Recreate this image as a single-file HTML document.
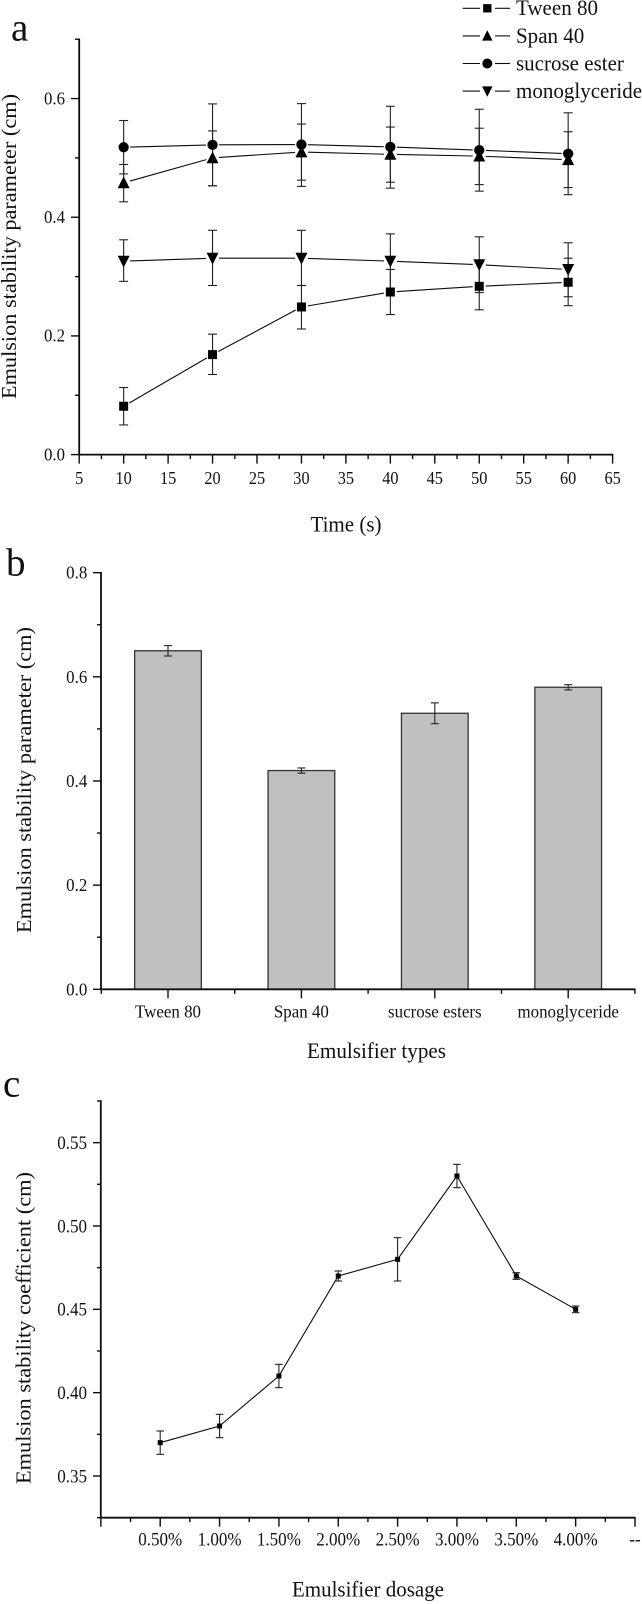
<!DOCTYPE html>
<html lang="en">
<head>
<meta charset="utf-8">
<title>Emulsion stability charts</title>
<style>
html,body{margin:0;padding:0;background:#fff;}
svg{display:block;}
text{font-family:"Liberation Serif",serif;fill:#111;}
</style>
</head>
<body>
<svg id="fig" width="642" height="1604" viewBox="0 0 642 1604" xmlns="http://www.w3.org/2000/svg">
  <text x="11" y="40.7" font-size="39">a</text>
  <text x="6" y="575.7" font-size="39">b</text>
  <text x="3" y="1096.7" font-size="39">c</text>
  <text transform="translate(16,399) rotate(-90)" font-size="21.5" textLength="305" lengthAdjust="spacingAndGlyphs">Emulsion stability parameter (cm)</text>
  <text x="346" y="531.7" font-size="22.5" text-anchor="middle" textLength="71" lengthAdjust="spacingAndGlyphs">Time (s)</text>
  <text transform="translate(31,933) rotate(-90)" font-size="21.5" textLength="306" lengthAdjust="spacingAndGlyphs">Emulsion stability parameter (cm)</text>
  <text x="376.5" y="1058" font-size="22.5" text-anchor="middle" textLength="139" lengthAdjust="spacingAndGlyphs">Emulsifier types</text>
  <text transform="translate(30.5,1484) rotate(-90)" font-size="21.5" textLength="312" lengthAdjust="spacingAndGlyphs">Emulsion stability coefficient (cm)</text>
  <text x="368" y="1596.7" font-size="22.5" text-anchor="middle" textLength="152" lengthAdjust="spacingAndGlyphs">Emulsifier dosage</text>
</svg>
<script>
// Chart a data
const aTimes = [10, 20, 30, 40, 50, 60];
const aXTicks = [5, 10, 15, 20, 25, 30, 35, 40, 45, 50, 55, 60, 65];
const aYTicks = [0, 0.2, 0.4, 0.6];
const aYMinorTicks = [0.1, 0.3, 0.5, 0.7];
const tweenValues = [0.0815, 0.1685, 0.2488, 0.274, 0.2836, 0.2904];
const tweenUpper = [0.113, 0.203, 0.285, 0.312, 0.3236, 0.331];
const tweenLower = [0.05, 0.135, 0.2117, 0.236, 0.244, 0.251];
const spanValues = [0.458, 0.5, 0.51, 0.506, 0.503, 0.497];
const spanUpper = [0.489, 0.5455, 0.557, 0.552, 0.55, 0.544];
const spanLower = [0.426, 0.453, 0.4625, 0.459, 0.455, 0.45];
const sucroseValues = [0.518, 0.522, 0.5225, 0.5185, 0.513, 0.507];
const sucroseUpper = [0.563, 0.591, 0.5915, 0.587, 0.582, 0.576];
const sucroseLower = [0.473, 0.453, 0.452, 0.449, 0.444, 0.438];
const monoValues = [0.326, 0.331, 0.331, 0.326, 0.32, 0.312];
const monoUpper = [0.362, 0.378, 0.378, 0.372, 0.367, 0.357];
const monoLower = [0.292, 0.285, 0.285, 0.28, 0.273, 0.266];
const legendLabels = ["Tween 80", "Span 40", "sucrose ester", "monoglyceride"];

// Chart b data
const bCategories = ["Tween 80", "Span 40", "sucrose esters", "monoglyceride"];
const bValues = [0.65, 0.42, 0.53, 0.58];
const bErrors = [0.01, 0.005, 0.02, 0.005];
const bYTicks = [0, 0.2, 0.4, 0.6, 0.8];
const bYMinorTicks = [0.1, 0.3, 0.5, 0.7];

// Chart c data
const cCategories = ["0.50%", "1.00%", "1.50%", "2.00%", "2.50%", "3.00%", "3.50%", "4.00%", "--"];
const cValues = [0.37, 0.38, 0.41, 0.47, 0.48, 0.53, 0.47, 0.45];
const cErrors = [0.007, 0.007, 0.007, 0.003, 0.013, 0.007, 0.002, 0.002];
const cYTicks = [0.35, 0.4, 0.45, 0.5, 0.55];
const cYMinorTicks = [0.325, 0.375, 0.425, 0.475, 0.525, 0.575];

const svg = document.getElementById('fig');
const NS = 'http://www.w3.org/2000/svg';
const INK = '#0c0c0c';
const AXIS_W = 1.8;
const TICK_W = 1.4;

function make(tag, name, props) {
  const el = document.createElementNS(NS, tag);
  
  
  for (const k in props) el.setAttribute(k, props[k]);
  svg.appendChild(el);
  return el;
}
function seg(name, x1, y1, x2, y2, w, color) {
  return make('line', name, {x1, y1, x2, y2, stroke: color || INK, 'stroke-width': w || 1});
}
// Text is drawn slightly taller than its natural width, as in the reference.
function label(name, x, y, str, size, anchor, condense) {
  const el = make('text', name, {x, y, 'font-size': size, 'text-anchor': anchor});
  el.textContent = str;
  const len = el.getComputedTextLength();
  el.setAttribute('textLength', (len * condense).toFixed(2));
  el.setAttribute('lengthAdjust', 'spacingAndGlyphs');
  return el;
}
function marker(kind, name, x, y, s) {
  if (kind === 'square') return make('rect', name, {x: x - s / 2, y: y - s / 2, width: s, height: s, fill: '#000'});
  if (kind === 'circle') return make('circle', name, {cx: x, cy: y, r: s / 2, fill: '#000'});
  const h = s * 0.47, w = s * 0.52;
  const pts = kind === 'up'
    ? [[x, y - h - 1], [x + w, y + h], [x - w, y + h]]
    : [[x, y + h + 1], [x + w, y - h], [x - w, y - h]];
  return make('polygon', name, {points: pts.map(p => p.join(',')).join(' '), fill: '#000'});
}
function errorBar(name, x, yTop, yBot, cap) {
  seg(name + '-stem', x, yTop, x, yBot, 1.1, '#222');
  seg(name + '-cap-top', x - cap, yTop, x + cap, yTop, 1.1, '#222');
  seg(name + '-cap-bottom', x - cap, yBot, x + cap, yBot, 1.1, '#222');
}
// Line between two points, stopping short of the markers.
function gappedSeg(name, x1, y1, x2, y2, gap) {
  const d = Math.hypot(x2 - x1, y2 - y1) || 1;
  const ux = (x2 - x1) / d, uy = (y2 - y1) / d;
  return seg(name, x1 + ux * gap, y1 + uy * gap, x2 - ux * gap, y2 - uy * gap, 1.1);
}

/* ---------- chart a ---------- */
const aX = v => 79.2 + (v - 5) * 8.89;
const aY = v => 454.6 - v * 593.4;
const aSeries = [
  {key: 'monoglyceride', kind: 'down', size: 11.5, v: monoValues, up: monoUpper, lo: monoLower},
  {key: 'span-40', kind: 'up', size: 11.5, v: spanValues, up: spanUpper, lo: spanLower},
  {key: 'sucrose-ester', kind: 'circle', size: 10.3, v: sucroseValues, up: sucroseUpper, lo: sucroseLower},
  {key: 'tween-80', kind: 'square', size: 9, v: tweenValues, up: tweenUpper, lo: tweenLower}
];
aSeries.forEach(s => {
  aTimes.forEach((t, i) => {
    if (i < aTimes.length - 1) gappedSeg('line-' + s.key, aX(t), aY(s.v[i]), aX(aTimes[i + 1]), aY(s.v[i + 1]), 6.5);
    errorBar('error-bar-' + s.key, aX(t), aY(s.up[i]), aY(s.lo[i]), 4.5);
  });
});
aSeries.forEach(s => {
  aTimes.forEach((t, i) => marker(s.kind, 'point-' + s.key, aX(t), aY(s.v[i]), s.size));
});
seg('chart-a-y-axis', 79.2, aY(0.7) - 0.7, 79.2, aY(0) + 0.7, AXIS_W);
seg('chart-a-x-axis', 79.2, aY(0), aX(65) + 0.7, aY(0), AXIS_W);
aYTicks.forEach(v => {
  seg('chart-a-y-tick', 71, aY(v), 79, aY(v), TICK_W);
  label('chart-a-y-tick-label', 65, aY(v) + 5.7, v.toFixed(1), 17.5, 'end', 0.96);
});
aYMinorTicks.forEach(v => seg('chart-a-y-minor-tick', 75, aY(v), 79, aY(v), TICK_W));
aXTicks.forEach(v => {
  seg('chart-a-x-tick', aX(v), aY(0), aX(v), aY(0) + 9, TICK_W);
  if (v < 65) seg('chart-a-x-minor-tick', aX(v + 2.5), aY(0), aX(v + 2.5), aY(0) + 4.5, TICK_W);
  label('chart-a-x-tick-label', aX(v), 484, String(v), 17.5, 'middle', 0.93);
});
const legendKinds = ['square', 'up', 'circle', 'down'];
const legendSizes = [8.3, 10, 10, 10];
const legendRowY = 8.3;
const legendRowStep = 27.6;
legendLabels.forEach((t, i) => {
  const y = legendRowY + i * legendRowStep;
  seg('legend-line-left', 462.7, y, 480, y, 1.1);
  seg('legend-line-right', 495, y, 510, y, 1.1);
  marker(legendKinds[i], 'legend-marker', 487.3, y, legendSizes[i]);
  label('legend-label', 516, y + 6.9, t, 22, 'start', 0.955);
});

/* ---------- chart b ---------- */
const bX = i => 168 + i * 133.4;
const bY = v => 989.3 - v * 520.8;
const barW = 66.7;
bCategories.forEach((c, i) => {
  make('rect', 'bar-' + c.replace(/\s+/g, '-').toLowerCase(), {
    x: bX(i) - barW / 2, y: bY(bValues[i]), width: barW, height: bY(0) - bY(bValues[i]),
    fill: '#c0c0c0', stroke: '#333', 'stroke-width': 1.3
  });
  errorBar('bar-error', bX(i), bY(bValues[i] + bErrors[i]), bY(bValues[i] - bErrors[i]), 4);
  seg('chart-b-x-tick', bX(i), bY(0), bX(i), bY(0) + 9, TICK_W);
  label('chart-b-x-tick-label', bX(i), 1017.7, c, 18, 'middle', 0.94);
  seg('chart-b-x-minor-tick', bX(i) - 66.7, bY(0), bX(i) - 66.7, bY(0) + 4.5, TICK_W);
});
seg('chart-b-x-end-tick', bX(3) + 66.7, bY(0), bX(3) + 66.7, bY(0) + 4.5, TICK_W);
seg('chart-b-y-axis', 101, bY(0.8) - 0.7, 101, bY(0) + 0.7, AXIS_W);
seg('chart-b-x-axis', 101, bY(0), 635.6, bY(0), AXIS_W);
bYTicks.forEach(v => {
  seg('chart-b-y-tick', 93, bY(v), 101, bY(v), TICK_W);
  label('chart-b-y-tick-label', 87.3, bY(v) + 6, v.toFixed(1), 18, 'end', 0.94);
});
bYMinorTicks.forEach(v => seg('chart-b-y-minor-tick', 97, bY(v), 101, bY(v), TICK_W));

/* ---------- chart c ---------- */
const cX = i => 160.2 + i * 59.35;
const cY = v => 1476 - (v - 0.35) * 1666.7;
const cPts = cValues.map((v, i) => cX(i) + ',' + cY(v)).join(' ');
make('polyline', 'dosage-line', {points: cPts, fill: 'none', stroke: INK, 'stroke-width': 1.1});
cValues.forEach((v, i) => {
  errorBar('dosage-error', cX(i), cY(v + cErrors[i]), cY(v - cErrors[i]), 3.8);
  marker('square', 'dosage-point', cX(i), cY(v), 5);
});
seg('chart-c-y-axis', 100.8, cY(0.575) - 0.7, 100.8, cY(0.325) + 0.7, AXIS_W);
seg('chart-c-x-axis', 100.8, cY(0.325), 635.6, cY(0.325), AXIS_W);
cYTicks.forEach(v => {
  seg('chart-c-y-tick', 93, cY(v), 101, cY(v), TICK_W);
  label('chart-c-y-tick-label', 87, cY(v) + 6.3, v.toFixed(2), 18.5, 'end', 0.92);
});
cYMinorTicks.forEach(v => seg('chart-c-y-minor-tick', 97, cY(v), 101, cY(v), TICK_W));
seg('chart-c-x-origin-tick', cX(-1), cY(0.325), cX(-1), cY(0.325) + 9, TICK_W);
cCategories.forEach((c, i) => {
  seg('chart-c-x-tick', cX(i), cY(0.325), cX(i), cY(0.325) + 9, TICK_W);
  seg('chart-c-x-minor-tick', cX(i - 0.5), cY(0.325), cX(i - 0.5), cY(0.325) + 4.5, TICK_W);
  label('chart-c-x-tick-label', cX(i), 1545.7, c, 18.5, 'middle', 0.92);
});
</script>
</body>
</html>
